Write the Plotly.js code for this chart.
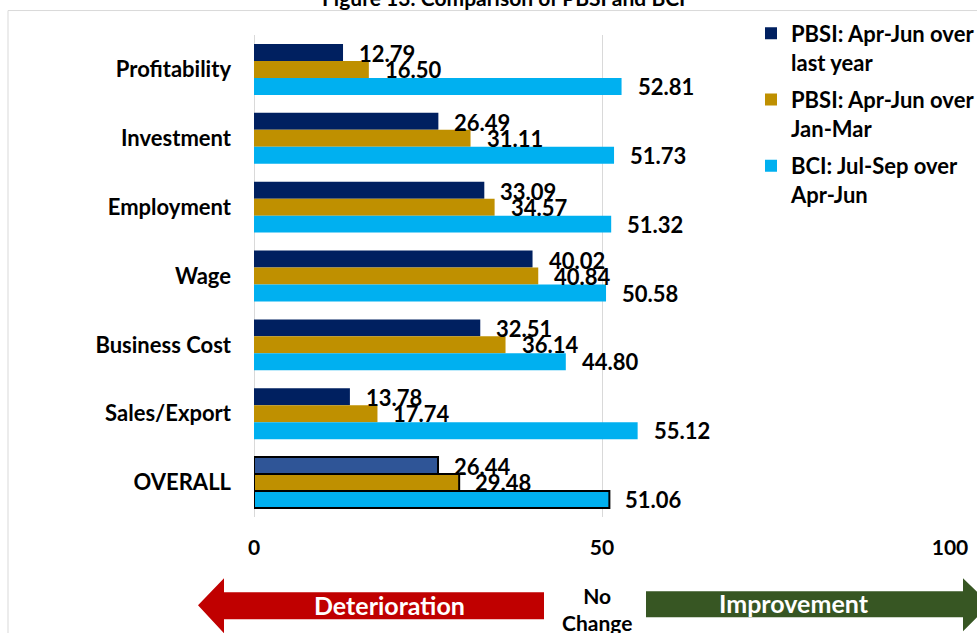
<!DOCTYPE html>
<html><head><meta charset="utf-8">
<script src="https://cdn.plot.ly/plotly-3.0.1.min.js"></script>
<style>html,body{margin:0;padding:0;background:#fff;}#chart{width:977px;height:633px;}</style>
</head><body><div id="chart"></div>
<script>
var categories = ["Profitability","Investment","Employment","Wage","Business Cost","Sales/Export","OVERALL"];
var seriesNames = ["PBSI: Apr-Jun over<br>last year","PBSI: Apr-Jun over<br>Jan-Mar","BCI: Jul-Sep over<br>Apr-Jun"];
var pbsiYoY = [12.79, 26.49, 33.09, 40.02, 32.51, 13.78, 26.44];
var pbsiQoQ = [16.50, 31.11, 34.57, 40.84, 36.14, 17.74, 29.48];
var bciNext = [52.81, 51.73, 51.32, 50.58, 44.80, 55.12, 51.06];
var xTicks = [0, 50, 100];

var W = 977, H = 633, L = 254, R = 27, T = 34.5, B = 115.5;
var pw = W - L - R, ph = H - T - B;
function px(x){ return (x - L) / pw; }
function py(y){ return (H - B - y) / ph; }

var colors = ["#002060", "#BF9000", "#00B0F0"];
var overallColors = ["#2F5597", "#BF9000", "#00B0F0"];
var series = [pbsiYoY, pbsiQoQ, bciNext];
var font = "Lato, 'Open Sans', sans-serif";

var traces = series.map(function(vals, i){
  return {
    type: "bar", orientation: "h", name: seriesNames[i], legendgroup: "g" + i,
    y: categories, x: vals,
    marker: {
      color: categories.map(function(c){ return c === "OVERALL" ? overallColors[i] : colors[i]; }),
      line: {color: "#000", width: categories.map(function(c){ return c === "OVERALL" ? 2 : 0; })}
    },
    hoverinfo: "x+name"
  };
});

var annotations = [];
var shifts = [16, 0, -17];
series.forEach(function(vals, i){
  vals.forEach(function(v, j){
    annotations.push({x: v, y: categories[j], xref: "x", yref: "y", text: v.toFixed(2),
      showarrow: false, xanchor: "left", yanchor: "middle", xshift: 14, yshift: shifts[i],
      font: {family: font, size: 22, color: "#000", weight: "bold"}});
  });
});

// title (cropped at top)
annotations.push({x: px(503), y: py(-3), xref: "paper", yref: "paper", text: "Figure 13: Comparison of PBSI and BCI",
  showarrow: false, xanchor: "center", yanchor: "middle", font: {family: font, size: 21, color: "#000", weight: "bold"}});
// arrow labels
annotations.push({x: px(389), y: py(606), xref: "paper", yref: "paper", text: "Deterioration", showarrow: false,
  xanchor: "center", yanchor: "middle", font: {family: font, size: 25, color: "#fff", weight: "bold"}});
annotations.push({x: px(794), y: py(604), xref: "paper", yref: "paper", text: "Improvement", showarrow: false,
  xanchor: "center", yanchor: "middle", font: {family: font, size: 25, color: "#fff", weight: "bold"}});
annotations.push({x: px(597), y: py(610), xref: "paper", yref: "paper", text: "No<br>Change", showarrow: false,
  xanchor: "center", yanchor: "middle", font: {family: font, size: 21, color: "#000", weight: "bold"}});

function pathPx(pts){
  return "M" + pts.map(function(p){ return px(p[0]) + "," + py(p[1]); }).join("L") + "Z";
}
var shapes = [
  {type: "rect", xref: "paper", yref: "paper", x0: px(8), x1: px(990), y0: py(10), y1: py(650),
   line: {color: "#D9D9D9", width: 1}, fillcolor: "rgba(0,0,0,0)", layer: "below"},
  {type: "path", xref: "paper", yref: "paper", path: pathPx([[198,606],[224,579],[224,593],[544,593],[544,620],[224,620],[224,634]]),
   fillcolor: "#C00000", line: {width: 0}},
  {type: "path", xref: "paper", yref: "paper", path: pathPx([[646,592],[963,592],[963,579],[990,605],[963,632],[963,618],[646,618]]),
   fillcolor: "#375623", line: {width: 0}}
];

var layout = {
  width: W, height: H,
  margin: {l: L, r: R, t: T, b: B, autoexpand: false},
  paper_bgcolor: "#fff", plot_bgcolor: "#fff",
  barmode: "group", bargap: 0.26, bargroupgap: 0,
  showlegend: true,
  legend: {x: px(751), y: py(12), xanchor: "left", yanchor: "top", bgcolor: "#fff", valign: "top",
    font: {family: font, size: 22, color: "#000", weight: "bold"}, itemwidth: 30, tracegroupgap: 6},
  xaxis: {range: [0, 100], tickvals: xTicks, ticktext: xTicks.map(String), showgrid: true, gridcolor: "#D9D9D9",
    zeroline: true, zerolinecolor: "#D9D9D9", zerolinewidth: 1, showline: false, ticks: "",
    tickfont: {family: font, size: 21, color: "#000", weight: "bold"}, ticklabelstandoff: 16, fixedrange: true},
  yaxis: {type: "category", autorange: "reversed", showgrid: false, zeroline: false, showline: false, ticks: "",
    tickfont: {family: font, size: 22, color: "#000", weight: "bold"}, ticklabelstandoff: 22, fixedrange: true},
  annotations: annotations, shapes: shapes
};

Plotly.newPlot("chart", traces, layout, {displayModeBar: false, staticPlot: true});
</script></body></html>
